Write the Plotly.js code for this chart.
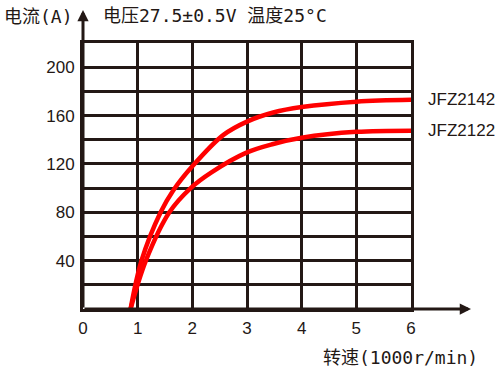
<!DOCTYPE html>
<html>
<head>
<meta charset="utf-8">
<script src="https://cdn.plot.ly/plotly-3.0.1.min.js"></script>
<style>html,body{margin:0;padding:0;background:#fff;}#chart{width:502px;height:371px;}</style>
</head>
<body>
<div id="chart"></div>
<script>
// ---- data ----
const seriesNames = ["JFZ2142", "JFZ2122"];
const speedA = [0.87, 1.07, 1.42, 1.65, 2.0, 2.57, 3.0, 3.48, 4.0, 5.0, 6.0];
const currentA = [0, 40, 80, 98, 118, 144, 155, 162.5, 167, 171.5, 173];
const speedB = [0.87, 1.15, 1.58, 1.97, 2.35, 3.0, 3.48, 4.0, 5.0, 6.0];
const currentB = [0, 40, 80, 100, 113, 129.5, 136.5, 141.6, 146.5, 147.5];
const xTicks = [0, 1, 2, 3, 4, 5, 6];
const yGrid = [0, 20, 40, 60, 80, 100, 120, 140, 160, 180, 200, 220];
const yLabels = ["", "", "40", "", "80", "", "120", "", "160", "", "200", ""];
const titleText = "电压27.5±0.5V 温度25°C";
const yTitleText = "电流(A)";
const xTitleText = "转速(1000r/min)";

// ---- styles ----
const ink = "#231815";
const red = "#ff0000";
const cjkFont = "DejaVu Sans Mono, Noto Sans CJK SC, sans-serif";
const latFont = "Liberation Sans, Arial, sans-serif";

const traces = [
  {x: speedA, y: currentA, name: seriesNames[0], mode: "lines",
   line: {color: red, width: 4.5, shape: "spline", smoothing: 1}, hoverinfo: "skip"},
  {x: speedB, y: currentB, name: seriesNames[1], mode: "lines",
   line: {color: red, width: 4.5, shape: "spline", smoothing: 1}, hoverinfo: "skip"}
];

const layout = {
  width: 502, height: 371,
  margin: {l: 83, r: 91, t: 43, b: 62, pad: 0},
  paper_bgcolor: "#fff", plot_bgcolor: "#fff",
  showlegend: false,
  title: {text: titleText, x: 103/502, xanchor: "left", xref: "container",
          y: 1 - 16/371, yanchor: "middle", yref: "container",
          font: {family: cjkFont, size: 18, color: ink}},
  xaxis: {range: [0, 6], tickvals: xTicks, ticktext: xTicks.map(String),
          showgrid: true, gridcolor: ink, gridwidth: 3, zeroline: false,
          showline: true, mirror: true, linecolor: ink, linewidth: 3,
          ticks: "outside", ticklen: 2, tickcolor: "rgba(0,0,0,0)",
          tickfont: {family: latFont, size: 17, color: ink}, fixedrange: true},
  yaxis: {range: [0, 220], tickvals: yGrid, ticktext: yLabels,
          showgrid: true, gridcolor: ink, gridwidth: 3, zeroline: false,
          showline: true, mirror: true, linecolor: ink, linewidth: 3,
          ticks: "outside", ticklen: 2, tickcolor: "rgba(0,0,0,0)",
          tickfont: {family: latFont, size: 17, color: ink}, fixedrange: true},
  annotations: [
    // x-axis arrow
    {xref: "paper", yref: "paper", x: (471-83)/328, y: 0, ax: -(471-83), ay: 0,
     axref: "pixel", ayref: "pixel", text: "", showarrow: true,
     arrowhead: 2, arrowsize: 0.75, arrowwidth: 3, arrowcolor: ink, standoff: 0},
    // y-axis arrow
    {xref: "paper", yref: "paper", x: 0, y: (309-10)/266, ax: 0, ay: 299,
     axref: "pixel", ayref: "pixel", text: "", showarrow: true,
     arrowhead: 2, arrowsize: 0.75, arrowwidth: 3, arrowcolor: ink, standoff: 0},
    {xref: "paper", yref: "paper", x: (2-83)/328, y: (309-16)/266, xanchor: "left", yanchor: "middle",
     text: yTitleText, showarrow: false, font: {family: cjkFont, size: 18, color: ink}},
    {xref: "paper", yref: "paper", x: (321-83)/328, y: (309-357)/266, xanchor: "left", yanchor: "middle",
     text: xTitleText, showarrow: false, font: {family: cjkFont, size: 18, color: ink}},
    {xref: "paper", yref: "y", x: (426-83)/328, y: currentA[currentA.length-1], xanchor: "left", yanchor: "middle",
     text: seriesNames[0], showarrow: false, font: {family: latFont, size: 17, color: ink}},
    {xref: "paper", yref: "y", x: (426-83)/328, y: currentB[currentB.length-1], xanchor: "left", yanchor: "middle",
     text: seriesNames[1], showarrow: false, font: {family: latFont, size: 17, color: ink}}
  ]
};

Plotly.newPlot("chart", traces, layout, {displayModeBar: false, staticPlot: true});
</script>
</body>
</html>
